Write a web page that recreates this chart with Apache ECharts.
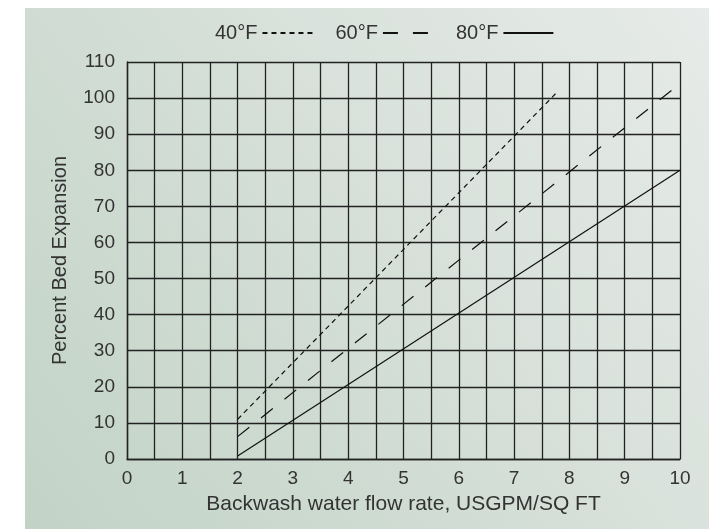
<!DOCTYPE html>
<html>
<head>
<meta charset="utf-8">
<script src="https://cdn.jsdelivr.net/npm/echarts@6/dist/echarts.min.js"></script>
<style>
    html, body { margin: 0; padding: 0; background: #fff; }
    #chart { width: 709px; height: 529px; }
</style>
</head>
<body>
<div id="chart"></div>
<script>
    // temperatures (legend)
    var temps = ['40°F', '60°F', '80°F'];
    // backwash flow rate (USGPM/SQ FT) at line ends
    var flow40 = [2, 7.8];
    var flow60 = [2, 10];
    var flow80 = [2, 10];
    // percent bed expansion at line ends
    var exp40 = [11, 102];
    var exp60 = [6.2, 104];
    var exp80 = [0.8, 80];
    // dash patterns for each temperature
    var dashes = [[5, 4], [15, 15], 'solid'];

    function pairs(xs, ys) {
        var out = [];
        for (var i = 0; i < xs.length; i++) out.push([xs[i], ys[i]]);
        return out;
    }

    var lines = [pairs(flow40, exp40), pairs(flow60, exp60), pairs(flow80, exp80)];

    var myChart = echarts.init(document.getElementById('chart'));
    var font = 'Liberation Sans, Arial, sans-serif';

    var option = {
        backgroundColor: '#ffffff',
        animation: false,
        graphic: [{
            type: 'rect',
            left: 25, top: 8,
            shape: { width: 684, height: 521 },
            z: -10,
            style: {
                fill: new echarts.graphic.LinearGradient(1, 0, 0, 1, [
                    { offset: 0, color: '#e7ebe9' },
                    { offset: 1, color: '#c2d3c6' }
                ])
            }
        }],
        legend: {
            left: 210, top: 18,
            align: 'right',
            itemWidth: 50,
            itemHeight: 10,
            itemGap: 22,
            data: temps,
            itemStyle: { opacity: 0 },
            textStyle: { fontFamily: font, fontSize: 20, color: '#333' }
        },
        grid: { left: 127, right: 29, top: 62, bottom: 70 },
        xAxis: {
            type: 'value',
            min: 0, max: 10, interval: 0.5,
            name: 'Backwash water flow rate, USGPM/SQ FT',
            nameLocation: 'middle',
            nameGap: 35,
            nameTextStyle: { fontFamily: font, fontSize: 21, color: '#333' },
            axisLine: { lineStyle: { color: '#222', width: 1.4 } },
            axisTick: { show: false },
            axisLabel: {
                margin: 10,
                fontFamily: font, fontSize: 19, color: '#333',
                formatter: function (v) { return v % 1 === 0 ? String(v) : ''; }
            },
            splitLine: { lineStyle: { color: '#222', width: 1.3 } }
        },
        yAxis: {
            type: 'value',
            min: 0, max: 110, interval: 10,
            name: 'Percent Bed Expansion',
            nameLocation: 'middle',
            nameGap: 57,
            nameTextStyle: { fontFamily: font, fontSize: 20, color: '#333' },
            axisLine: { show: true, lineStyle: { color: '#222', width: 1.4 } },
            axisTick: { show: false },
            axisLabel: { margin: 12, fontFamily: font, fontSize: 19, color: '#333' },
            splitLine: { lineStyle: { color: '#222', width: 1.3 } }
        },
        series: temps.map(function (t, i) {
            return {
                name: t,
                type: 'line',
                symbol: 'none',
                data: lines[i],
                lineStyle: { color: '#111', width: 1.2, type: dashes[i] },
                itemStyle: { color: '#111' }
            };
        })
    };
    myChart.setOption(option);
</script>
</body>
</html>
